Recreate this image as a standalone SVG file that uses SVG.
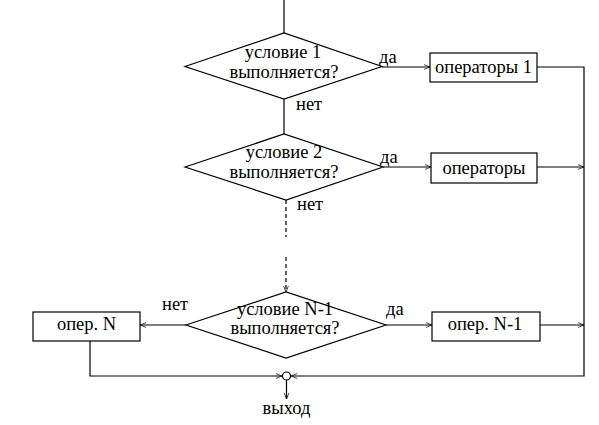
<svg xmlns="http://www.w3.org/2000/svg" width="599" height="425" viewBox="0 0 599 425">
<defs>
<marker id="arr" viewBox="0 0 10 10" refX="10" refY="5" markerWidth="6" markerHeight="6" orient="auto" markerUnits="userSpaceOnUse">
<path d="M0,1 L10,5 L0,9" fill="none" stroke="#000" stroke-width="1.2"/>
</marker>
</defs>
<style>
text{font-family:"Liberation Serif","Times New Roman",serif;font-size:18.5px;fill:#000}
.c{text-anchor:middle}
.s{fill:#fff;stroke:#000;stroke-width:1.2}
.l{fill:none;stroke:#000;stroke-width:1.2}
.d{fill:none;stroke:#000;stroke-width:1.2;stroke-dasharray:4,3}
</style>
<rect width="599" height="425" fill="#fff"/>
<g id="connectors">
<line class="l" x1="284" y1="0" x2="284" y2="33"/>
<line class="l" x1="382" y1="67" x2="430" y2="67" marker-end="url(#arr)"/>
<polyline class="l" points="537,67 584,67 584,376 291,376" marker-end="url(#arr)"/>
<line class="l" x1="284" y1="99" x2="284" y2="134"/>
<line class="l" x1="383" y1="167" x2="431" y2="167" marker-end="url(#arr)"/>
<line class="l" x1="537" y1="167" x2="584" y2="167" marker-end="url(#arr)"/>
<line class="d" x1="286" y1="200" x2="286" y2="237"/>
<line class="d" x1="286" y1="257" x2="286" y2="292" marker-end="url(#arr)"/>
<line class="l" x1="186" y1="325" x2="140" y2="325" marker-end="url(#arr)"/>
<line class="l" x1="386" y1="325" x2="432" y2="325" marker-end="url(#arr)"/>
<line class="l" x1="540" y1="325" x2="584" y2="325" marker-end="url(#arr)"/>
<polyline class="l" points="90,341 90,376 282,376" marker-end="url(#arr)"/>
<line class="l" x1="286.5" y1="380" x2="286.5" y2="399" marker-end="url(#arr)"/>
<text x="379" y="63">да</text>
<text x="296" y="110">нет</text>
<text x="380" y="163">да</text>
<text x="297" y="210">нет</text>
<text x="162" y="310">нет</text>
<text x="386" y="315">да</text>
</g>
<g id="cond1">
<polygon class="s" points="185,66.5 284,33 382,66.5 284,99"/>
<text class="c" x="283" y="58">условие 1</text>
<text class="c" x="284" y="78">выполняется?</text>
</g>
<g id="op1">
<rect class="s" x="430" y="53" width="107" height="29"/>
<text class="c" x="483.5" y="73">операторы 1</text>
</g>
<g id="cond2">
<polygon class="s" points="185,167 284,134 383,167 286,200"/>
<text class="c" x="284" y="158">условие 2</text>
<text class="c" x="284" y="178">выполняется?</text>
</g>
<g id="op2">
<rect class="s" x="431" y="153" width="106" height="30"/>
<text class="c" x="484" y="174">операторы</text>
</g>
<g id="condN1">
<polygon class="s" points="186,325 286,292 386,325 286,358"/>
<text class="c" x="285" y="315">условие N-1</text>
<text class="c" x="285" y="334">выполняется?</text>
</g>
<g id="opN">
<rect class="s" x="33" y="312" width="107" height="29"/>
<text class="c" x="86.5" y="330">опер. N</text>
</g>
<g id="opN1">
<rect class="s" x="432" y="312" width="108" height="29"/>
<text class="c" x="485" y="330">опер. N-1</text>
</g>
<g id="join">
<circle class="s" cx="286.5" cy="376" r="4"/>
<text class="c" x="286.5" y="414">выход</text>
</g>
</svg>
